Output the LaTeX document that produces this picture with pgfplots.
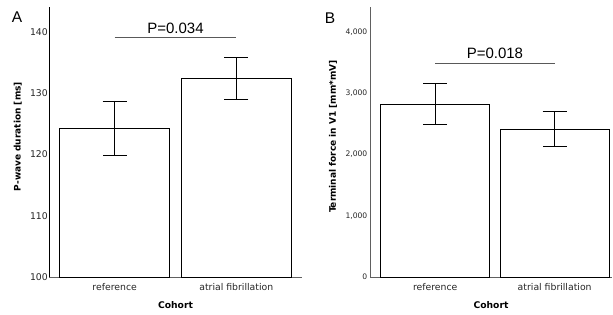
\documentclass[border=0pt]{standalone}
\usepackage{fontspec}
\setmainfont{DejaVu Sans}
\newfontfamily\arial{Liberation Sans}
\usepackage{pgfplots}
\pgfplotsset{compat=1.18}
\begin{document}
\begin{tikzpicture}
\pgfplotsset{
  common/.style={
    scale only axis, anchor=south west,
    axis x line*=bottom, axis y line*=left,
    xtick={0,1}, xticklabels={reference, atrial fibrillation},
    xtick style={draw=none}, ytick style={draw=none},
    major tick length=0pt,
    x axis line style={gray!75!black, line width=1pt, -},
    /pgf/number format/assume math mode=true,
    /pgf/number format/1000 sep={,},
    xticklabel style={font=\fontsize{9.3}{10}\selectfont, text=black!85, yshift=-2.5pt},
    xlabel={Cohort},
    xlabel style={font=\bfseries\fontsize{9.2}{10}\selectfont, yshift=-4.5pt},
    ylabel style={font=\bfseries\fontsize{9}{10}\selectfont, anchor=center},
  },
  barplot/.style={ybar, bar width=#1, draw=black, fill=white, line width=0.7pt,
    error bars/.cd, y dir=both, y explicit,
    error bar style={black, line width=0.8pt},
    error mark=-,
    error mark options={rotate=90, black, mark size=12pt, line width=0.8pt}},
  pline/.style={sharp plot, mark=none, gray!70!black, line width=0.8pt},
}
% Panel A
\begin{axis}[common, at={(49pt,37pt)}, width=253pt, height=270pt,
  xmin=-0.54, xmax=1.54, ymin=100, ymax=144.1,
  ytick={100,110,120,130,140},
  y axis line style={black, line width=0.8pt, -},
  yticklabel style={font=\fontsize{9.3}{10}\selectfont, text=black!85, inner sep=1pt},
  ylabel={P-wave duration [ms]},
  ylabel style={at={(axis description cs:-0.123,0.52)}}]
\addplot[barplot=110pt] coordinates {(0,124.3) +- (0,4.45) (1,132.4) +- (0,3.4)};
\addplot[pline] coordinates {(0,139.2) (1,139.2)};
\node[font=\arial\fontsize{15}{17}\selectfont, above, inner sep=1pt] at (axis cs:0.5,139.6) {P=0.034};
\end{axis}
% Panel B
\begin{axis}[common, at={(370pt,37pt)}, width=242pt, height=270pt,
  xmin=-0.546, xmax=1.48, ymin=0, ymax=4410,
  ytick={0,1000,2000,3000,4000},
  scaled y ticks=false,
  y axis line style={gray!75!black, line width=1pt, -},
  yticklabel style={font=\fontsize{7.6}{9}\selectfont, text=black!85, inner sep=2.5pt},
  ylabel={Terminal force in V1 [mm*mV]},
  ylabel style={at={(axis description cs:-0.153,0.52)}}]
\addplot[barplot=109pt] coordinates {(0,2822) +- (0,335) (1,2418) +- (0,280)};
\addplot[pline] coordinates {(0,3492) (1,3492)};
\node[font=\arial\fontsize{15}{17}\selectfont, above, inner sep=1pt] at (axis cs:0.5,3540) {P=0.018};
\end{axis}
\node[font=\arial\fontsize{15.5}{18}\selectfont] at (17pt,296.5pt) {A};
\node[font=\arial\fontsize{15.5}{18}\selectfont] at (330pt,296pt) {B};
\pgfresetboundingbox
\useasboundingbox (0pt,0pt) rectangle (613pt,314pt);
\end{tikzpicture}
\end{document}
